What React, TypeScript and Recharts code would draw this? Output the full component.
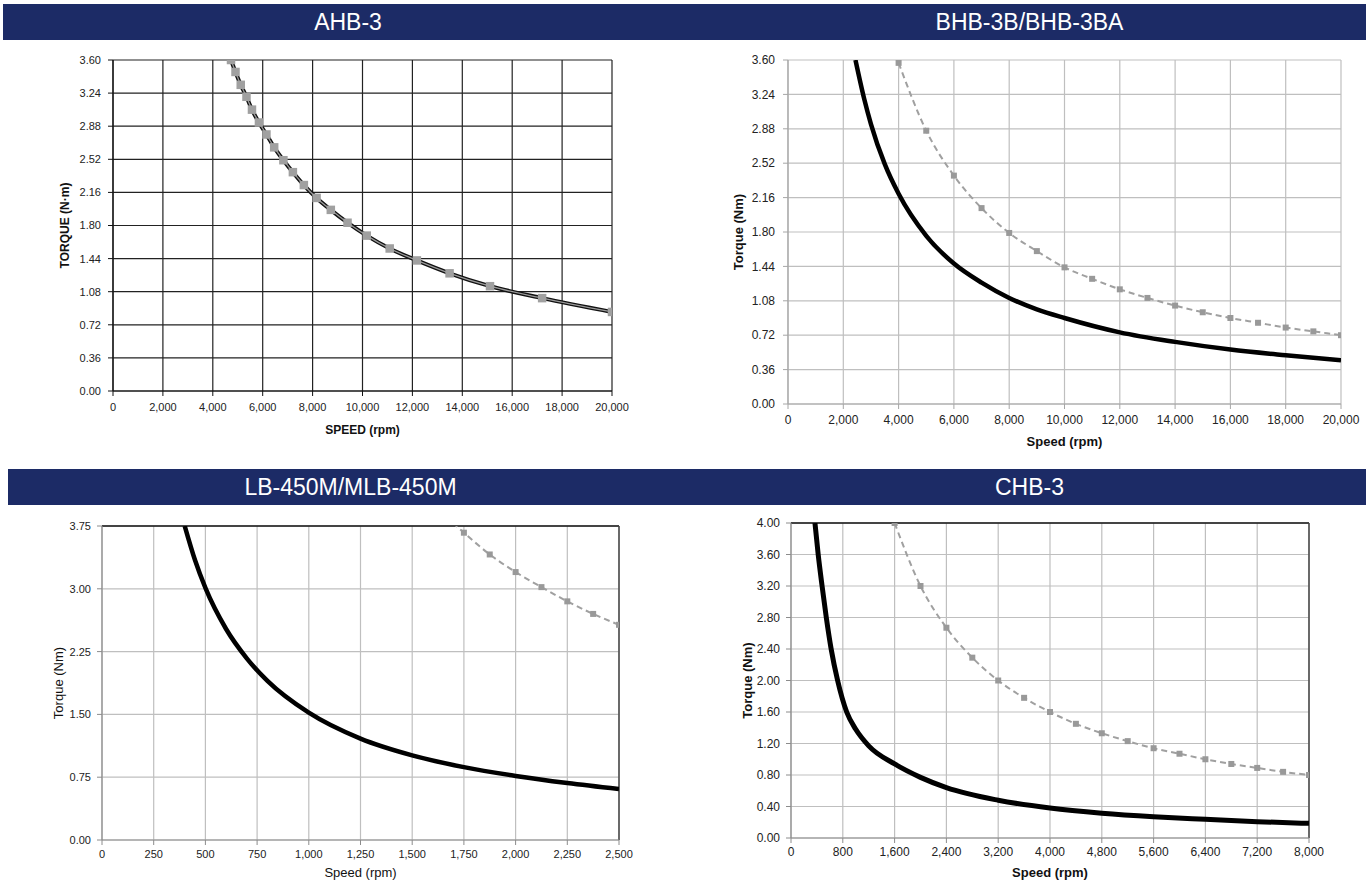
import { CartesianGrid, Label, Line, LineChart, ReferenceLine, XAxis, YAxis } from "recharts";
import type { ReactNode } from "react";

const NAVY = "#1c2b66";
const GREY = "#a0a0a0";
const ARIAL = "'Liberation Sans', Arial, sans-serif";
const NARROW = "'Liberation Sans Narrow', 'Arial Narrow', 'Liberation Sans', Arial, sans-serif";

// AHB-3
const ahbSpeed = [4730, 4910, 5120, 5350, 5570, 5850, 6150, 6460, 6830, 7210, 7650, 8160, 8730, 9400, 10170, 11090, 12180, 13490, 15110, 17200, 20000];
const ahbTorque = [3.6, 3.47, 3.33, 3.2, 3.06, 2.92, 2.79, 2.65, 2.51, 2.38, 2.24, 2.1, 1.97, 1.83, 1.69, 1.55, 1.42, 1.28, 1.14, 1.01, 0.86];
const ahbXTicks = [0, 2000, 4000, 6000, 8000, 10000, 12000, 14000, 16000, 18000, 20000];
const ahbYTicks = [0, 0.36, 0.72, 1.08, 1.44, 1.8, 2.16, 2.52, 2.88, 3.24, 3.6];

// BHB-3B (solid) / BHB-3BA (dashed)
const bhbSpeed = [2440, 2750, 3000, 3500, 4000, 5000, 6000, 7000, 8000, 9000, 10000, 12000, 14000, 16000, 18000, 20000];
const bhbTorque = [3.6, 3.2, 2.93, 2.51, 2.2, 1.76, 1.47, 1.27, 1.11, 0.99, 0.9, 0.75, 0.65, 0.57, 0.51, 0.457];
const bhbaSpeed = [4000, 5000, 6000, 7000, 8000, 9000, 10000, 11000, 12000, 13000, 14000, 15000, 16000, 17000, 18000, 19000, 20000];
const bhbaTorque = [3.57, 2.86, 2.39, 2.05, 1.79, 1.6, 1.43, 1.31, 1.2, 1.11, 1.03, 0.96, 0.9, 0.85, 0.8, 0.76, 0.72];
const bhbXTicks = ahbXTicks;
const bhbYTicks = ahbYTicks;

// LB-450M (solid) / MLB-450M (dashed)
const lbSpeed = [400, 450, 500, 600, 700, 800, 1000, 1250, 1500, 1750, 2000, 2250, 2500];
const lbTorque = [3.75, 3.34, 3.01, 2.52, 2.17, 1.9, 1.52, 1.21, 1.01, 0.87, 0.765, 0.68, 0.608];
const mlbSpeed = [1625, 1750, 1875, 2000, 2125, 2250, 2375, 2500];
const mlbTorque = [3.95, 3.67, 3.41, 3.2, 3.02, 2.85, 2.7, 2.57];
const lbXTicks = [0, 250, 500, 750, 1000, 1250, 1500, 1750, 2000, 2250, 2500];
const lbYTicks = [0, 0.75, 1.5, 2.25, 3, 3.75];

// CHB-3
const chbSpeed = [370, 420, 480, 545, 620, 720, 860, 1000, 1200, 1600, 2000, 2400, 3200, 4000, 4800, 5600, 6400, 7200, 8000];
const chbTorque = [4.0, 3.6, 3.2, 2.8, 2.4, 2.0, 1.6, 1.38, 1.17, 0.94, 0.77, 0.64, 0.48, 0.38, 0.315, 0.27, 0.237, 0.207, 0.186];
const chbaSpeed = [1600, 2000, 2400, 2800, 3200, 3600, 4000, 4400, 4800, 5200, 5600, 6000, 6400, 6800, 7200, 7600, 8000];
const chbaTorque = [4.0, 3.2, 2.67, 2.29, 2.0, 1.78, 1.6, 1.45, 1.33, 1.23, 1.14, 1.07, 1.0, 0.94, 0.89, 0.84, 0.8];
const chbXTicks = [0, 800, 1600, 2400, 3200, 4000, 4800, 5600, 6400, 7200, 8000];
const chbYTicks = [0, 0.4, 0.8, 1.2, 1.6, 2.0, 2.4, 2.8, 3.2, 3.6, 4.0];

const toPoints = (xs: number[], ys: number[]) => xs.map((x, i) => ({ speed: x, torque: ys[i] }));

const square = (size: number, fill: string) => (p: any) => {
  if (p.cx == null || p.cy == null) return <g key={`e-${p.index}`} />;
  return <rect key={`sq-${p.index}`} x={p.cx - size / 2} y={p.cy - size / 2} width={size} height={size} fill={fill} />;
};

const fmtX = (v: number) => v.toLocaleString("en-US");
const fmtY = (v: number) => v.toFixed(2);

function TitleBar({ left, top, width, text }: { left: number; top: number; width: number; text: string }) {
  return (
    <div
      style={{
        position: "absolute",
        left,
        top,
        width,
        height: 36,
        background: NAVY,
        color: "#fff",
        fontFamily: ARIAL,
        fontSize: 23,
        lineHeight: "36px",
        textAlign: "center",
        paddingLeft: 10,
        boxSizing: "border-box",
      }}
    >
      {text}
    </div>
  );
}

type PanelProps = {
  left: number;
  top: number;
  width: number;
  height: number;
  plot: { left: number; top: number; right: number; bottom: number };
  xDomain: [number, number];
  xTicks: number[];
  yDomain: [number, number];
  yTicks: number[];
  xLabel: string;
  yLabel: string;
  xLabelBaseline: number;
  yLabelX: number;
  labelSize: number;
  labelBold: boolean;
  tickFont: string;
  tickSize: number;
  tickMarginX: number;
  tickMarginY: number;
  gridColor: string;
  axisColor: string;
  border: boolean;
  children: ReactNode;
};

function Panel(p: PanelProps) {
  const yAxisWidth = p.plot.left - p.left;
  const marginTop = p.plot.top - p.top;
  const marginRight = p.left + p.width - p.plot.right;
  const xAxisHeight = p.top + p.height - p.plot.bottom;
  const tickStyle = { fill: "#222", fontSize: p.tickSize, fontFamily: p.tickFont };
  const labelStyle = {
    textAnchor: "middle" as const,
    fill: "#111",
    fontSize: p.labelSize,
    fontWeight: p.labelBold ? 700 : 400,
    fontFamily: p.tickFont,
  };
  return (
    <div style={{ position: "absolute", left: p.left, top: p.top }}>
      <LineChart width={p.width} height={p.height} margin={{ top: marginTop, right: marginRight, bottom: 0, left: 0 }}>
        <CartesianGrid stroke={p.gridColor} strokeWidth={1.2} />
        <XAxis
          dataKey="speed"
          type="number"
          domain={p.xDomain}
          ticks={p.xTicks}
          interval={0}
          tickFormatter={fmtX}
          tick={tickStyle}
          tickSize={5}
          tickMargin={p.tickMarginX}
          axisLine={{ stroke: p.axisColor, strokeWidth: 1.2 }}
          tickLine={{ stroke: p.axisColor }}
          height={xAxisHeight}
          allowDataOverflow
        >
          <Label value={p.xLabel} position="insideBottom" offset={p.top + p.height - p.xLabelBaseline} style={labelStyle} />
        </XAxis>
        <YAxis
          dataKey="torque"
          type="number"
          domain={p.yDomain}
          ticks={p.yTicks}
          interval={0}
          tickFormatter={fmtY}
          tick={tickStyle}
          tickSize={5}
          tickMargin={p.tickMarginY}
          axisLine={{ stroke: p.axisColor, strokeWidth: 1.2 }}
          tickLine={{ stroke: p.axisColor }}
          width={yAxisWidth}
          allowDataOverflow
        >
          <Label value={p.yLabel} angle={-90} position="insideLeft" offset={p.yLabelX - p.left} style={labelStyle} />
        </YAxis>
        {p.border && <ReferenceLine y={p.yDomain[1]} stroke="#111" strokeWidth={1.5} />}
        {p.border && <ReferenceLine x={p.xDomain[1]} stroke="#444" strokeWidth={1.5} />}
        {p.children}
      </LineChart>
    </div>
  );
}

const solid = (data: { speed: number; torque: number }[], width = 4.5) => (
  <Line
    data={data}
    dataKey="torque"
    type="monotone"
    stroke="#000"
    strokeWidth={width}
    dot={false}
    activeDot={false}
    isAnimationActive={false}
  />
);

const dashed = (data: { speed: number; torque: number }[]) => (
  <Line
    data={data}
    dataKey="torque"
    type="monotone"
    stroke={GREY}
    strokeWidth={2}
    strokeDasharray="6 4"
    dot={square(6, "#999")}
    activeDot={false}
    isAnimationActive={false}
  />
);

export default function App() {
  const ahb = toPoints(ahbSpeed, ahbTorque);
  return (
    <div style={{ position: "absolute", left: 0, top: 0, width: 1366, height: 880, background: "#fff", overflow: "hidden" }}>
      <TitleBar left={3} top={4} width={680} text="AHB-3" />
      <TitleBar left={683} top={4} width={683} text="BHB-3B/BHB-3BA" />
      <TitleBar left={8} top={469} width={675} text="LB-450M/MLB-450M" />
      <TitleBar left={683} top={469} width={683} text="CHB-3" />

      <Panel
        left={0}
        top={42}
        width={683}
        height={418}
        plot={{ left: 113, top: 60, right: 612, bottom: 391 }}
        xDomain={[0, 20000]}
        xTicks={ahbXTicks}
        yDomain={[0, 3.6]}
        yTicks={ahbYTicks}
        xLabel="SPEED (rpm)"
        yLabel="TORQUE (N·m)"
        xLabelBaseline={434}
        yLabelX={65}
        labelSize={12}
        labelBold
        tickFont={ARIAL}
        tickSize={11}
        tickMarginX={7}
        tickMarginY={7}
        gridColor="#222"
        axisColor="#111"
        border={false}
      >
        <Line data={ahb} dataKey="torque" type="monotone" stroke="#111" strokeWidth={4} dot={false} activeDot={false} isAnimationActive={false} />
        <Line data={ahb} dataKey="torque" type="monotone" stroke="#9a9a9a" strokeWidth={1.3} dot={square(8.5, "#a0a0a0")} activeDot={false} isAnimationActive={false} />
      </Panel>

      <Panel
        left={683}
        top={42}
        width={683}
        height={418}
        plot={{ left: 788, top: 60, right: 1341, bottom: 404 }}
        xDomain={[0, 20000]}
        xTicks={bhbXTicks}
        yDomain={[0, 3.6]}
        yTicks={bhbYTicks}
        xLabel="Speed (rpm)"
        yLabel="Torque (Nm)"
        xLabelBaseline={446}
        yLabelX={738}
        labelSize={13}
        labelBold
        tickFont={NARROW}
        tickSize={12}
        tickMarginX={6}
        tickMarginY={8}
        gridColor="#bfbfbf"
        axisColor="#a6a6a6"
        border={false}
      >
        {solid(toPoints(bhbSpeed, bhbTorque))}
        {dashed(toPoints(bhbaSpeed, bhbaTorque))}
      </Panel>

      <Panel
        left={0}
        top={507}
        width={683}
        height={373}
        plot={{ left: 102, top: 526, right: 619, bottom: 840 }}
        xDomain={[0, 2500]}
        xTicks={lbXTicks}
        yDomain={[0, 3.75]}
        yTicks={lbYTicks}
        xLabel="Speed (rpm)"
        yLabel="Torque (Nm)"
        xLabelBaseline={877}
        yLabelX={58}
        labelSize={13}
        labelBold={false}
        tickFont={NARROW}
        tickSize={11}
        tickMarginX={5}
        tickMarginY={6}
        gridColor="#bfbfbf"
        axisColor="#8c8c8c"
        border
      >
        {solid(toPoints(lbSpeed, lbTorque))}
        {dashed(toPoints(mlbSpeed, mlbTorque))}
      </Panel>

      <Panel
        left={683}
        top={507}
        width={683}
        height={373}
        plot={{ left: 791, top: 523, right: 1309, bottom: 838 }}
        xDomain={[0, 8000]}
        xTicks={chbXTicks}
        yDomain={[0, 4]}
        yTicks={chbYTicks}
        xLabel="Speed (rpm)"
        yLabel="Torque (Nm)"
        xLabelBaseline={877}
        yLabelX={747}
        labelSize={13}
        labelBold
        tickFont={NARROW}
        tickSize={12}
        tickMarginX={4}
        tickMarginY={6}
        gridColor="#bfbfbf"
        axisColor="#8c8c8c"
        border
      >
        {solid(toPoints(chbSpeed, chbTorque), 5)}
        {dashed(toPoints(chbaSpeed, chbaTorque))}
      </Panel>
    </div>
  );
}
